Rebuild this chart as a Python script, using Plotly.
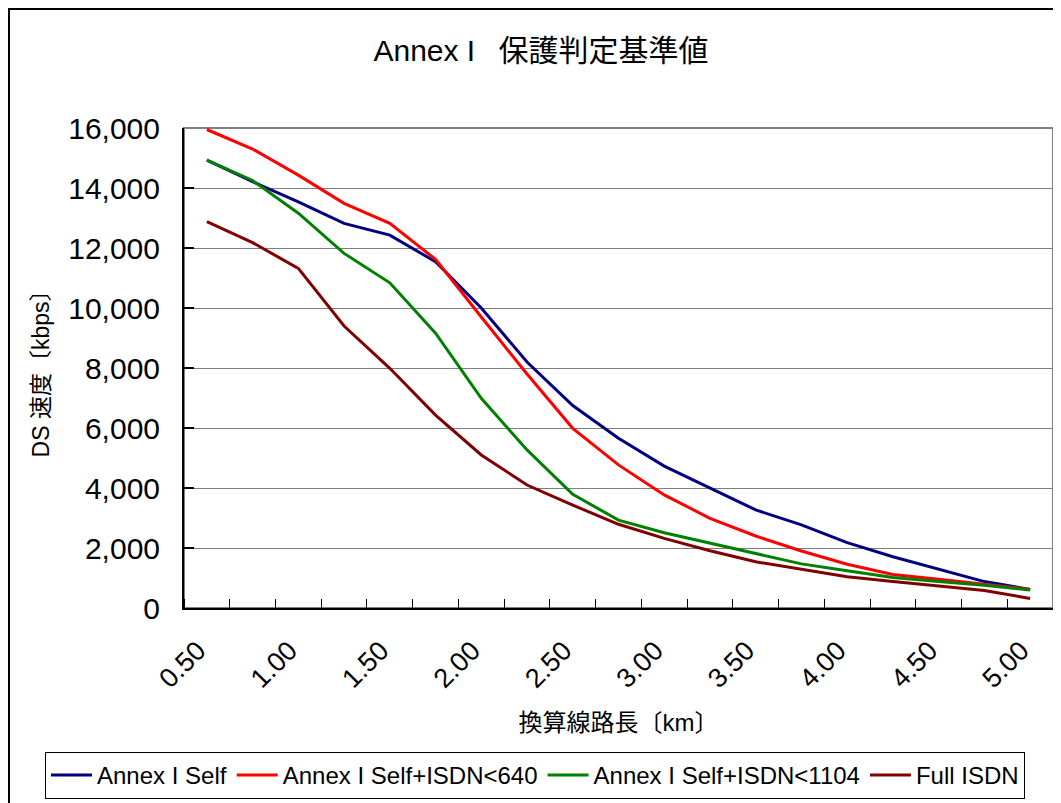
import plotly.graph_objects as go

distance_km = [0.50, 0.75, 1.00, 1.25, 1.50, 1.75, 2.00, 2.25, 2.50, 2.75,
               3.00, 3.25, 3.50, 3.75, 4.00, 4.25, 4.50, 4.75, 5.00]

annex_self = [14930, 14210, 13540, 12820, 12430, 11540, 10000, 8200, 6750, 5660,
              4730, 3990, 3270, 2770, 2180, 1710, 1290, 880, 620]
self_isdn640 = [15950, 15300, 14430, 13490, 12820, 11620, 9700, 7800, 5990, 4770,
                3770, 2990, 2400, 1900, 1460, 1120, 960, 800, 620]
self_isdn1104 = [14930, 14250, 13160, 11820, 10840, 9160, 6990, 5270, 3790, 2930,
                 2510, 2160, 1820, 1470, 1240, 1020, 880, 760, 600]
full_isdn = [12880, 12180, 11320, 9400, 7990, 6430, 5100, 4100, 3430, 2790,
             2320, 1910, 1540, 1290, 1040, 880, 730, 580, 320]

series_names = ["Annex I Self", "Annex I Self+ISDN<640", "Annex I Self+ISDN<1104", "Full ISDN"]
series_values = [annex_self, self_isdn640, self_isdn1104, full_isdn]
series_colors = ["#000080", "#FF0000", "#008000", "#800000"]

x_tick_vals = [0.5, 1.0, 1.5, 2.0, 2.5, 3.0, 3.5, 4.0, 4.5, 5.0]
x_tick_text = ["0.50", "1.00", "1.50", "2.00", "2.50", "3.00", "3.50", "4.00", "4.50", "5.00"]

FONT = "Liberation Sans, Arial, Noto Sans CJK JP, sans-serif"

# figure is placed at an 8px offset by the page's body margin
W, H = 1053, 795
L, R, T, B = 176, 8, 120, 195
PW, PH = W - L - R, H - T - B

fig = go.Figure()
for name, vals, col in zip(series_names, series_values, series_colors):
    fig.add_trace(go.Scatter(x=distance_km, y=vals, mode="lines", name=name,
                             line=dict(color=col, width=3)))

fig.update_layout(
    width=W, height=H,
    margin=dict(l=L, r=R, t=T, b=B, autoexpand=False),
    paper_bgcolor="white", plot_bgcolor="white",
    font=dict(family=FONT, color="black"),
    title=dict(text="Annex I \u2002保護判定基準値", x=533 / W, xref="container", xanchor="center",
               y=1 - 42 / H, yref="container", yanchor="middle",
               font=dict(size=30, family=FONT, color="black")),
    showlegend=True,
    legend=dict(orientation="h", xref="paper", yref="paper",
                x=(37 - L) / PW, xanchor="left", y=-(791 - (T + PH)) / PH, yanchor="bottom",
                bordercolor="black", borderwidth=1, bgcolor="white",
                font=dict(size=24, family=FONT, color="black"),
                itemwidth=41, tracegroupgap=0),
)

fig.update_xaxes(
    range=[0.375, 5.125],
    tickmode="array", tickvals=x_tick_vals, ticktext=x_tick_text,
    tickangle=-45, ticks="", tickfont=dict(size=27, family=FONT),
    ticklabelstandoff=14, ticklabelshift=-9,
    showline=True, linecolor="black", linewidth=2,
    showgrid=False, zeroline=False,
    minor=dict(ticks="inside", tick0=0.375, dtick=0.25, ticklen=9, tickcolor="black",
               tickwidth=1, showgrid=False),
    title=dict(text="換算線路長〔km〕", font=dict(size=24, family=FONT), standoff=21),
)
fig.update_yaxes(
    range=[0, 16000], dtick=2000, tickformat=",",
    ticks="inside", ticklen=10, tickcolor="black", tickwidth=2,
    tickfont=dict(size=30, family=FONT), ticklabelstandoff=16,
    showline=True, linecolor="black", linewidth=2,
    showgrid=True, gridcolor="#7f7f7f", gridwidth=1, zeroline=False,
    title=dict(text="DS 速度〔kbps〕", font=dict(size=23, family=FONT), standoff=12),
)

# plot-area frame (grey) and outer chart frame (black)
fig.add_shape(type="rect", xref="x domain", yref="y domain", x0=0, x1=1, y0=0, y1=1,
              line=dict(color="#808080", width=2), layer="below")
fig.add_shape(type="rect", xref="paper", yref="paper",
              x0=(1 - L) / PW, x1=(W + 20 - L) / PW,
              y0=-(H + 20 - (T + PH)) / PH, y1=(T + PH - 1) / PH,
              line=dict(color="black", width=2), layer="below")

fig.write_html("out.html")
